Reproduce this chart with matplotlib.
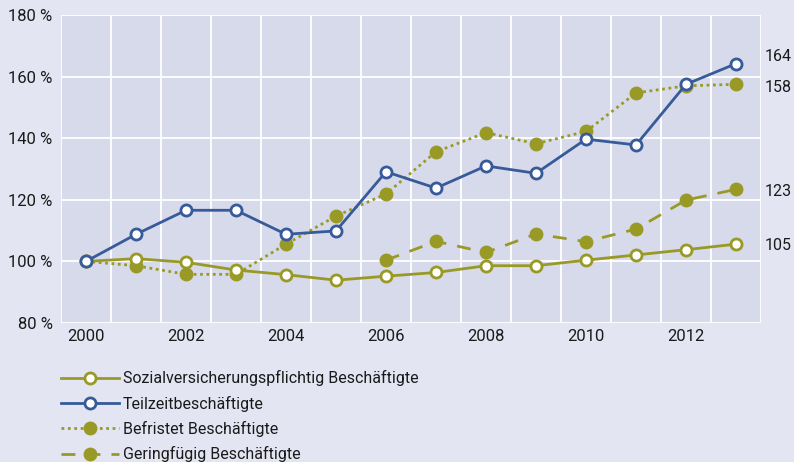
import matplotlib
matplotlib.use("Agg")
import matplotlib.pyplot as plt
from matplotlib.ticker import FixedLocator

plt.rcParams['font.family'] = ['Roboto', 'DejaVu Sans']

years = list(range(2000, 2014))
sozial = [100, 100.9, 99.7, 97.2, 95.7, 93.9, 95.2, 96.4, 98.6, 98.6, 100.4, 102.1, 103.8, 105.6]
teilzeit = [100, 108.8, 116.6, 116.6, 108.8, 109.9, 129.1, 123.8, 131.0, 128.6, 139.7, 137.8, 157.5, 164.2]
befristet = [100, 98.6, 95.8, 95.8, 105.6, 114.7, 121.9, 135.6, 141.8, 138.2, 142.2, 154.7, 157.0, 157.5]
gering_years = list(range(2006, 2014))
gering = [100.4, 106.5, 102.9, 108.9, 106.4, 110.5, 119.9, 123.4]

end_labels = ["164", "158", "123", "105"]
end_label_y = [166.5, 156.4, 122.7, 105.0]

labels = ["Sozialversicherungspflichtig Beschäftigte", "Teilzeitbeschäftigte",
          "Befristet Beschäftigte", "Geringfügig Beschäftigte"]
yticks = [80, 100, 120, 140, 160, 180]
xticks = [2000, 2002, 2004, 2006, 2008, 2010, 2012]

OLIVE = "#999a26"
BLUE = "#375a99"
FIG_BG = "#e3e6f2"
AX_BG = "#d7daeb"

fig = plt.figure(figsize=(7.94, 4.62), dpi=100, facecolor=FIG_BG)
ax = fig.add_axes([61/794, 1 - 323/462, 700/794, 308/462])
ax.set_facecolor(AX_BG)

ms = 8
h1, = ax.plot(years, sozial, color=OLIVE, lw=2, marker='o', ms=ms, mfc='white', mec=OLIVE, mew=2, zorder=4)
h3, = ax.plot(years, befristet, color=OLIVE, lw=2, ls=(0, (1, 1.3)), marker='o', ms=ms + 1, mfc=OLIVE, mec=OLIVE, zorder=3)
h4, = ax.plot(gering_years, gering, color=OLIVE, lw=2, ls=(0, (5, 4)), marker='o', ms=ms + 1, mfc=OLIVE, mec=OLIVE, zorder=3)
h2, = ax.plot(years, teilzeit, color=BLUE, lw=2, marker='o', ms=ms, mfc='white', mec=BLUE, mew=2, zorder=5)

ax.set_xlim(1999.5, 2013.5)
ax.set_ylim(80, 180)
ax.xaxis.set_major_locator(FixedLocator(xticks))
ax.xaxis.set_minor_locator(FixedLocator([y + 0.5 for y in range(1999, 2014)]))
ax.yaxis.set_major_locator(FixedLocator(yticks))
ax.set_xticklabels([str(x) for x in xticks])
ax.set_yticklabels([f"{v} %" for v in yticks])
ax.grid(False)
ax.grid(True, which='minor', axis='x', color='white', lw=1.3)
ax.grid(True, which='major', axis='y', color='white', lw=1.3)
ax.set_axisbelow(True)
ax.tick_params(which='both', length=0)
ax.tick_params(axis='x', pad=4, labelsize=12, colors='#1a1a1a')
ax.tick_params(axis='y', pad=6, labelsize=12, colors='#1a1a1a')
for s in ax.spines.values():
    s.set_visible(False)

for t, yv in zip(end_labels, end_label_y):
    ax.text(2013.58, yv, t, ha='left', va='center', fontsize=11.5, color='#1a1a1a', clip_on=False)

leg = fig.legend([h1, h2, h3, h4], labels, loc='upper left', bbox_to_anchor=(55/794, 1 - 364/462),
                 frameon=False, fontsize=11.5, handlelength=3.6, labelspacing=0.58,
                 handletextpad=0.25, borderaxespad=0)
for t in leg.get_texts():
    t.set_color('#1a1a1a')

fig.savefig("out.png", dpi=100, facecolor=FIG_BG)
